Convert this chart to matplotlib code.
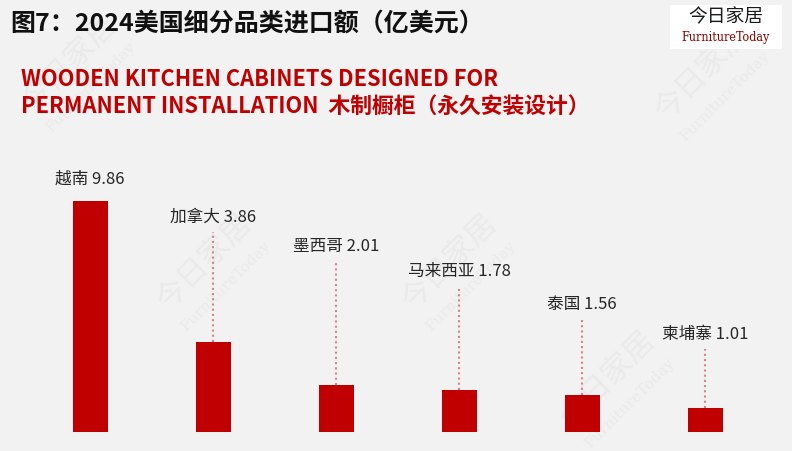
import matplotlib
matplotlib.use("Agg")
import matplotlib.pyplot as plt
from matplotlib.patches import Rectangle

countries = ["越南", "加拿大", "墨西哥", "马来西亚", "泰国", "柬埔寨"]
values = [9.86, 3.86, 2.01, 1.78, 1.56, 1.01]
label_y = [10.8, 9.15, 7.9, 6.84, 5.43, 4.15]  # label anchor heights (layout)

W, H = 792, 451
BG = "#f2f2f2"
RED = "#c00000"
CJK = ["Noto Sans CJK SC", "DejaVu Sans"]

fig = plt.figure(figsize=(W / 100, H / 100), dpi=100, facecolor=BG)

# faint watermarks (drawn beneath the chart axes)
for (x, y) in [(0.02, 0.74), (0.19, 0.30), (0.50, 0.30), (0.70, 0.04), (0.82, 0.72)]:
    fig.text(x, y, "今日家居", fontsize=22, color="#eaeaea", rotation=45,
             family=CJK, ha="left", va="bottom", zorder=-5)
    fig.text(x + 0.035, y - 0.04, "FurnitureToday", fontsize=11, color="#eaeaea", rotation=45,
             family=["DejaVu Serif"], ha="left", va="bottom", zorder=-5)

ax = fig.add_axes([0, 19 / H, 1, 432 / H])
ax.set_zorder(1)
ax.set_facecolor("none")
px_per_unit = 23.43
ax.set_ylim(0, 432 / px_per_unit)
ax.set_xlim(-90 / 123, (W - 90) / 123)
x = list(range(len(values)))
ax.bar(x, values, width=35 / 123, color=RED, zorder=3)
for i, (c, v, ly) in enumerate(zip(countries, values, label_y)):
    ax.text(i, ly, f"{c} {v:.2f}", ha="center", va="center", fontsize=12,
            color="#262626", family=CJK, zorder=4)
    if i > 0:
        ax.plot([i, i], [v, ly - 0.6], linestyle=(0, (1, 1.5)), color="#d98088",
                linewidth=1.5, zorder=2)
ax.axis("off")

# title
fig.text(10 / W, 1 - 24 / H, "图7：2024美国细分品类进口额（亿美元）", fontsize=18,
         fontweight="bold", family=CJK, color="#111111", ha="left", va="center", zorder=3)

# subtitle
fig.text(21 / W, 1 - 80 / H, "WOODEN KITCHEN CABINETS DESIGNED FOR", fontsize=15.7,
         fontweight="bold", family=CJK, color=RED, ha="left", va="center", zorder=3)
fig.text(21 / W, 1 - 106 / H, "PERMANENT INSTALLATION  木制橱柜（永久安装设计）", fontsize=15.7,
         fontweight="bold", family=CJK, color=RED, ha="left", va="center", zorder=3)

# logo box
fig.patches.append(Rectangle((670 / W, 1 - 49 / H), 112 / W, 44 / H, transform=fig.transFigure,
                             facecolor="white", edgecolor="none", zorder=2))
fig.text(726 / W, 1 - 17 / H, "今日家居", fontsize=13.5, family=CJK, color="#1a1a1a",
         ha="center", va="center", zorder=3)
fig.text(726 / W, 1 - 38 / H, "FurnitureToday", fontsize=9, family=["DejaVu Serif"],
         color="#8b0000", ha="center", va="center", zorder=3, fontstretch="condensed")

fig.savefig("out.png", dpi=100, facecolor=BG)
